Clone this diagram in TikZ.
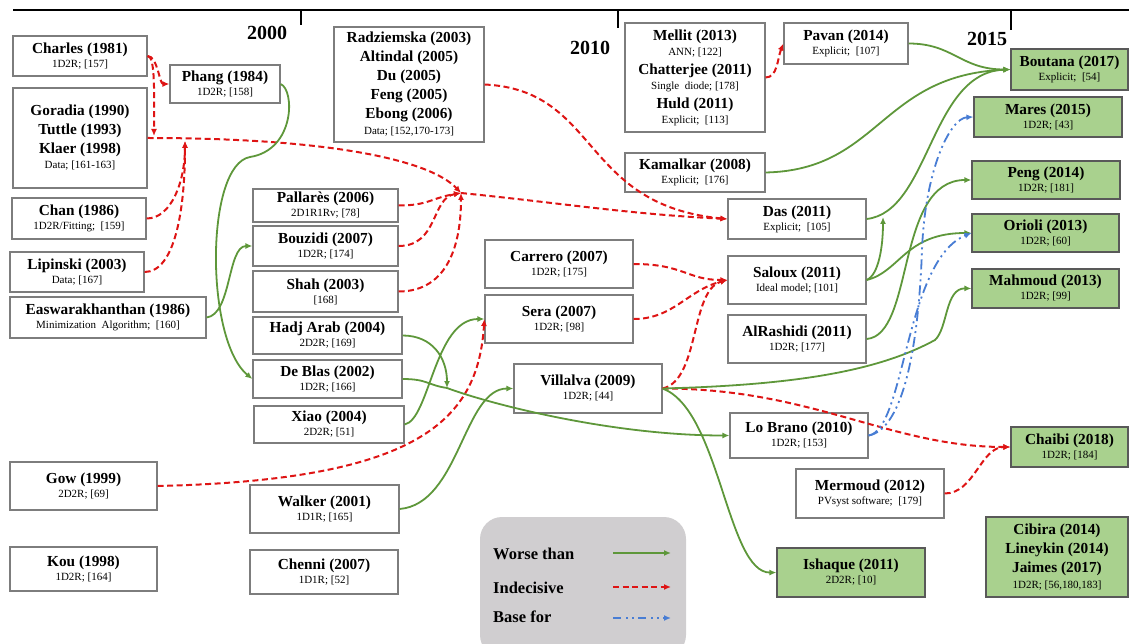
\documentclass[tikz,border=0pt]{standalone}
\usepackage{fontspec}
\setmainfont{Liberation Serif}
\usetikzlibrary{arrows.meta}
\definecolor{wgreen}{RGB}{94,151,58}
\definecolor{ired}{RGB}{222,20,20}
\definecolor{bblue}{RGB}{72,125,212}
\definecolor{gfill}{RGB}{169,209,142}
\definecolor{bordergray}{RGB}{125,125,125}
\definecolor{leggray}{RGB}{208,206,208}
\newcommand\mysub[1]{{\fontsize{11}{12}\selectfont\mdseries #1}}
\newcommand\bx[7][nbox]{\node[#1, minimum width={#4pt-#2pt}, minimum height={#5pt-#3pt}] (#6) at ({(#2+#4)/2},{(#3+#5)/2}) {#7};}
\tikzset{
 nbox/.style={draw=bordergray, line width=1.2pt, fill=white, inner sep=0pt, align=center, font=\fontsize{15.3}{19}\selectfont\bfseries},
 gbox/.style={nbox, fill=gfill, draw=black!65},
 worse/.style={draw=wgreen, line width=1.8pt, -{Latex[length=7pt,width=6pt]}},
 indec/.style={draw=ired, line width=2pt, dash pattern=on 6pt off 3.5pt, -{Latex[length=7pt,width=6pt]}},
 basefor/.style={draw=bblue, line width=1.8pt, dash pattern=on 10pt off 4pt on 2pt off 4pt on 2pt off 4pt, -{Latex[length=7pt,width=6pt]}},
 yearlbl/.style={anchor=base, inner sep=0pt, font=\fontsize{20}{24}\selectfont\bfseries},
 legtxt/.style={anchor=base west, inner sep=0pt, font=\fontsize{16.5}{20}\selectfont\bfseries},
}
\begin{document}
\begin{tikzpicture}[x=1pt,y=-1pt]
\useasboundingbox (0,0) rectangle (1129,644);
% timeline
\draw[line width=2pt] (13,10) -- (1129,10);
\draw[line width=2.5pt] (301,10) -- (301,25);
\draw[line width=2.5pt] (618,10) -- (618,28);
\draw[line width=2.5pt] (1011,10) -- (1011,30);
\node[yearlbl] (y2000) at (267,40) {2000};
\node[yearlbl] (y2010) at (590,55) {2010};
\node[yearlbl] (y2015) at (987,46) {2015};
% legend
\node[fill=leggray, rounded corners=22pt, minimum width=206pt, minimum height=140pt, inner sep=0pt] (legend) at (583,587) {};
\node[legtxt] (lw) at (493,559) {Worse than};
\node[legtxt] (li) at (493,593) {Indecisive};
\node[legtxt] (lb) at (493,622) {Base for};
\coordinate (lw1) at (613,553); \coordinate (lw2) at (671,553);
\coordinate (li1) at (613,587); \coordinate (li2) at (671,587);
\coordinate (lb1) at (613,618); \coordinate (lb2) at (671,618);
\draw[worse] (lw1) -- (lw2);
\draw[indec] (li1) -- (li2);
\draw[basefor, dash pattern=on 8pt off 5pt on 2pt off 4pt on 2pt off 4pt] (lb1) -- (lb2);
% boxes
\bx{13}{36}{147}{76}{charles}{Charles (1981)\\[-5pt]\mysub{1D2R; [157]}}
\bx{170}{65}{280}{103}{phang}{Phang (1984)\\[-5pt]\mysub{1D2R; [158]}}
\bx{13}{88}{147}{188}{goradia}{Goradia (1990)\\Tuttle (1993)\\Klaer (1998)\\[-4pt]\mysub{Data; [161-163]}}
\bx{12}{198}{146}{239}{chan}{Chan (1986)\\[-5pt]\mysub{1D2R/Fitting;\ \ [159]}}
\bx{10}{252}{144}{292}{lipinski}{Lipinski (2003)\\[-5pt]\mysub{Data; [167]}}
\bx{10}{297}{206}{338}{easwar}{Easwarakhanthan (1986)\\[-5pt]\mysub{Minimization\ \ Algorithm;\ \ [160]}}
\bx{10}{462}{157}{510}{gow}{Gow (1999)\\[-5pt]\mysub{2D2R; [69]}}
\bx{10}{547}{157}{591}{kou}{Kou (1998)\\[-5pt]\mysub{1D2R; [164]}}
\bx{334}{27}{484}{142}{radz}{Radziemska (2003)\\Altindal (2005)\\Du (2005)\\Feng (2005)\\Ebong (2006)\\[-3pt]\mysub{Data; [152,170-173]}}
\bx{253}{189}{398}{222}{pallares}{Pallarès (2006)\\[-5pt]\mysub{2D1R1Rv; [78]}}
\bx{253}{226}{398}{266}{bouzidi}{Bouzidi (2007)\\[-5pt]\mysub{1D2R; [174]}}
\bx{253}{271}{398}{312}{shah}{Shah (2003)\\[-5pt]\mysub{[168]}}
\bx{253}{317}{402}{354}{hadj}{Hadj Arab (2004)\\[-5pt]\mysub{2D2R; [169]}}
\bx{253}{360}{402}{398}{deblas}{De Blas (2002)\\[-5pt]\mysub{1D2R; [166]}}
\bx{254}{406}{404}{443}{xiao}{Xiao (2004)\\[-5pt]\mysub{2D2R; [51]}}
\bx{250}{485}{399}{533}{walker}{Walker (2001)\\[-5pt]\mysub{1D1R; [165]}}
\bx{250}{550}{398}{594}{chenni}{Chenni (2007)\\[-5pt]\mysub{1D1R; [52]}}
\bx{485}{240}{633}{288}{carrero}{Carrero (2007)\\[-5pt]\mysub{1D2R; [175]}}
\bx{485}{295}{633}{343}{sera}{Sera (2007)\\[-5pt]\mysub{1D2R; [98]}}
\bx{514}{364}{662}{413}{villalva}{Villalva (2009)\\[-5pt]\mysub{1D2R; [44]}}
\bx{625}{23}{765}{132}{mellit}{Mellit (2013)\\[-4pt]\mysub{ANN; [122]}\\Chatterjee (2011)\\[-4pt]\mysub{Single\ \ diode; [178]}\\Huld (2011)\\[-4pt]\mysub{Explicit;\ \ [113]}}
\bx{625}{153}{765}{192}{kamalkar}{Kamalkar (2008)\\[-5pt]\mysub{Explicit;\ \ [176]}}
\bx{784}{23}{908}{64}{pavan}{Pavan (2014)\\[-5pt]\mysub{Explicit;\ \ [107]}}
\bx{728}{199}{866}{239}{das}{Das (2011)\\[-5pt]\mysub{Explicit;\ \ [105]}}
\bx{728}{256}{866}{304}{saloux}{Saloux (2011)\\[-5pt]\mysub{Ideal model;\ [101]}}
\bx{728}{315}{866}{363}{alrashidi}{AlRashidi (2011)\\[-5pt]\mysub{1D2R; [177]}}
\bx{730}{413}{868}{458}{lobrano}{Lo Brano (2010)\\[-5pt]\mysub{1D2R; [153]}}
\bx{796}{469}{944}{518}{mermoud}{Mermoud (2012)\\[-5pt]\mysub{PVsyst software;\ \ [179]}}
\bx[gbox]{777}{548}{925}{597}{ishaque}{Ishaque (2011)\\[-5pt]\mysub{2D2R; [10]}}
\bx[gbox]{986}{517}{1128}{597}{cibira}{Cibira (2014)\\Lineykin (2014)\\Jaimes (2017)\\[-3pt]\mysub{1D2R; [56,180,183]}}
\bx[gbox]{1011}{427}{1128}{467}{chaibi}{Chaibi (2018)\\[-5pt]\mysub{1D2R; [184]}}
\bx[gbox]{1011}{49}{1128}{90}{boutana}{Boutana (2017)\\[-5pt]\mysub{Explicit;\ \ [54]}}
\bx[gbox]{974}{97}{1122}{137}{mares}{Mares (2015)\\[-5pt]\mysub{1D2R; [43]}}
\bx[gbox]{972}{161}{1120}{199}{peng}{Peng (2014)\\[-5pt]\mysub{1D2R; [181]}}
\bx[gbox]{972}{214}{1119}{252}{orioli}{Orioli (2013)\\[-5pt]\mysub{1D2R; [60]}}
\bx[gbox]{972}{269}{1119}{308}{mahmoud}{Mahmoud (2013)\\[-5pt]\mysub{1D2R; [99]}}
% junctions
\coordinate (c1) at (154,136);
\coordinate (J1) at (185,141);
\coordinate (J2) at (461,193);
\coordinate (J3) at (447,388);
\coordinate (J4) at (883,217);
% indecisive
\draw[indec] (charles.east) .. controls +(10,0) and +(-10,0) .. (phang.west);
\draw[indec] (charles.east) .. controls +(8,0) and +(0,-40) .. (c1);
\draw[indec] (chan.east) .. controls +(25,0) and +(0,40) .. (J1);
\draw[indec] (lipinski.east) .. controls +(30,0) and +(0,70) .. (J1);
\draw[indec] (goradia.east) .. controls (330,138) and (430,160) .. (J2);
\draw[indec] (pallares.east) .. controls +(30,0) and +(-30,5) .. (J2);
\draw[indec] (bouzidi.east) .. controls +(40,0) and +(-30,5) .. (J2);
\draw[indec] (shah.east) .. controls +(50,0) and +(0,50) .. (J2);
\draw[indec] (J2) .. controls +(100,10) and +(-100,-5) .. (das.west);
\draw[indec] (radz.east) .. controls (600,90) and (580,205) .. (das.west);
\draw[indec] (gow.east) .. controls (420,480) and (478,420) .. (sera.west);
\draw[indec] (carrero.east) .. controls +(50,0) and +(-40,0) .. (saloux.west);
\draw[indec] (sera.east) .. controls +(40,0) and +(-40,10) .. (saloux.west);
\draw[indec] (villalva.east) .. controls (700,380) and (690,290) .. (saloux.west);
\draw[indec] (villalva.east) .. controls +(150,0) and +(-120,0) .. (chaibi.west);
\draw[indec] (mermoud.east) .. controls +(30,0) and +(-30,0) .. (chaibi.west);
\draw[indec] (mellit.east) .. controls +(12,0) and +(-6,15) .. (pavan.west);
% worse than
\draw[worse] (phang.east) .. controls (295,90) and (295,150) .. (250,157) .. controls (205,165) and (205,340) .. (deblas.west);
\draw[worse] (easwar.east) .. controls +(25,-3) and +(-25,0) .. (bouzidi.west);
\draw[worse] (hadj.east) .. controls +(30,0) and +(0,-30) .. (J3);
\draw[worse] (deblas.east) .. controls +(25,0) and +(-20,-3) .. (J3) .. controls +(40,15) and +(-120,0) .. (lobrano.west);
\draw[worse] (xiao.east) .. controls +(25,-5) and +(-50,0) .. (sera.west);
\draw[worse] (walker.east) .. controls +(60,-5) and +(-50,0) .. (villalva.west);
\draw[worse] (villalva.east) .. controls (720,410) and (727,573) .. (ishaque.west);
\draw[worse] (villalva.east) .. controls (800,385) and (880,370) .. (935,340) .. controls (948,328) and (945,288) .. (mahmoud.west);
\draw[worse] (das.east) .. controls (930,212) and (930,72) .. (boutana.west);
\draw[worse] (saloux.east) .. controls +(12,-5) and +(0,30) .. (J4);
\draw[worse] (saloux.east) .. controls (900,272) and (905,233) .. (orioli.west);
\draw[worse] (alrashidi.east) .. controls (915,335) and (895,180) .. (peng.west);
\draw[worse] (kamalkar.east) .. controls (880,170) and (880,75) .. (boutana.west);
\draw[worse] (pavan.east) .. controls +(45,0) and +(-50,0) .. (boutana.west);
% base for
\draw[basefor] (lobrano.east) .. controls (900,430) and (918,360) .. (922,250) .. controls (925,170) and (950,118) .. (mares.west);
\draw[basefor] (lobrano.east) .. controls (905,430) and (905,260) .. (orioli.west);
\end{tikzpicture}
\end{document}
